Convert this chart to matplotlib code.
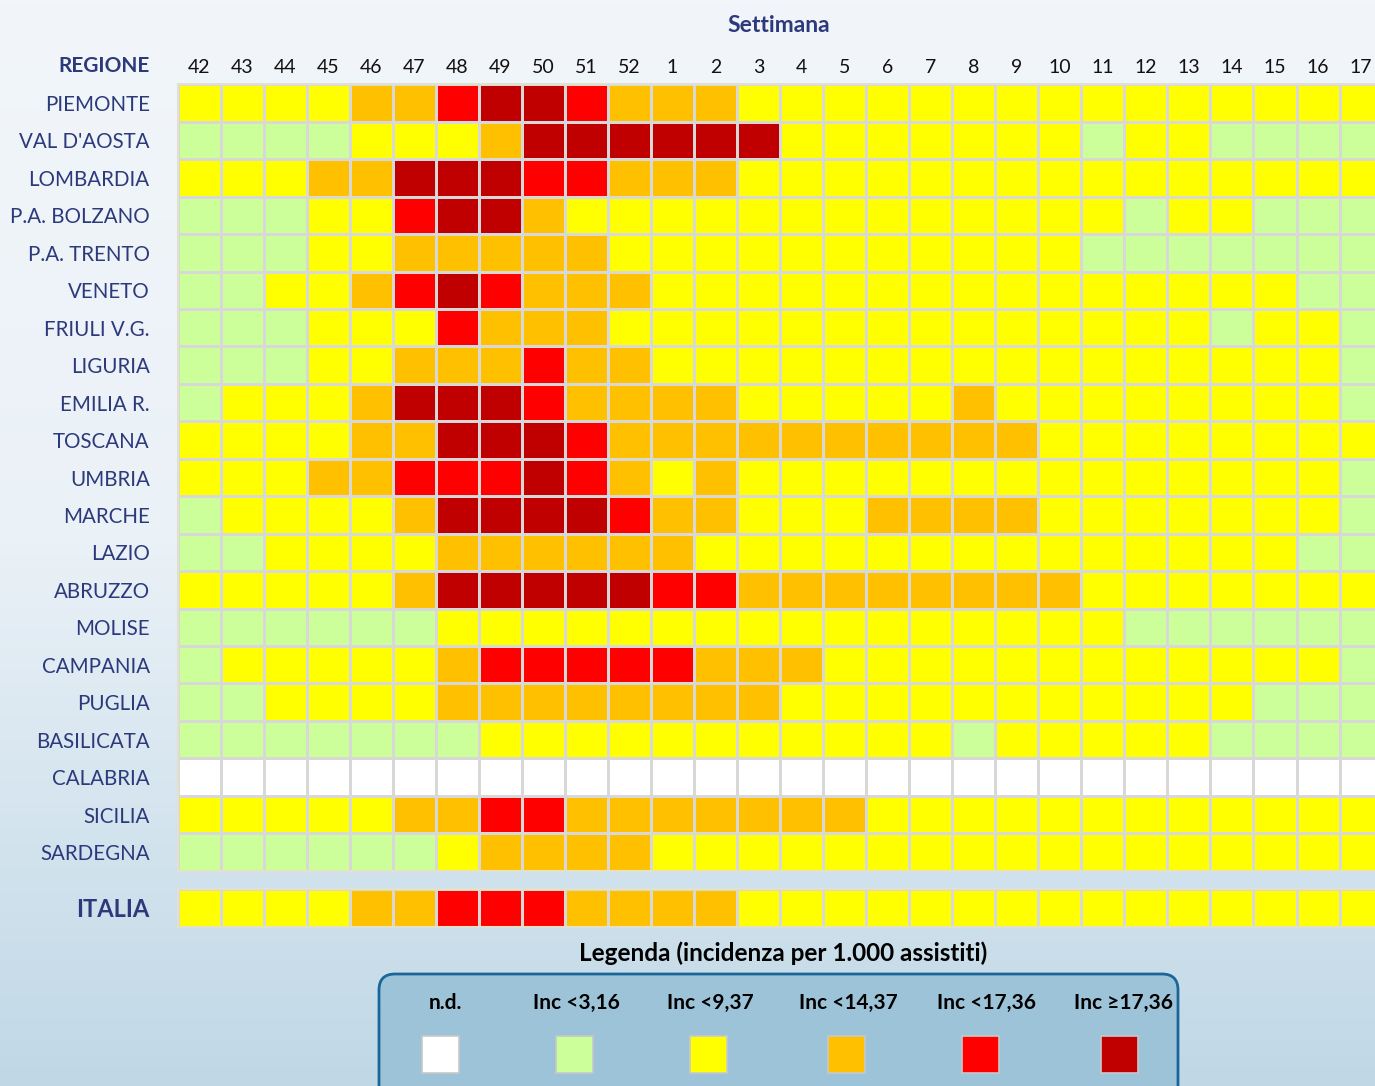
import numpy as np
import matplotlib
matplotlib.use("Agg")
import matplotlib.pyplot as plt
from matplotlib.colors import ListedColormap, BoundaryNorm, LinearSegmentedColormap
from matplotlib.patches import FancyBboxPatch, Rectangle

plt.rcParams['font.family'] = ['Lato', 'DejaVu Sans']

# ---------------- data ----------------
weeks = ['42', '43', '44', '45', '46', '47', '48', '49', '50', '51', '52',
         '1', '2', '3', '4', '5', '6', '7', '8', '9', '10', '11', '12', '13',
         '14', '15', '16', '17']

regions = ['PIEMONTE', "VAL D'AOSTA", 'LOMBARDIA', 'P.A. BOLZANO', 'P.A. TRENTO',
           'VENETO', 'FRIULI V.G.', 'LIGURIA', 'EMILIA R.', 'TOSCANA', 'UMBRIA',
           'MARCHE', 'LAZIO', 'ABRUZZO', 'MOLISE', 'CAMPANIA', 'PUGLIA',
           'BASILICATA', 'CALABRIA', 'SICILIA', 'SARDEGNA']

# class codes: 0=n.d., 1=<3,16, 2=<9,37, 3=<14,37, 4=<17,36, 5=>=17,36
piemonte   = [2,2,2,2,3,3,4,5,5,4,3, 3,3,2,2,2,2,2,2,2,2,2,2,2,2,2,2,2]
val_aosta  = [1,1,1,1,2,2,2,3,5,5,5, 5,5,5,2,2,2,2,2,2,2,1,2,2,1,1,1,1]
lombardia  = [2,2,2,3,3,5,5,5,4,4,3, 3,3,2,2,2,2,2,2,2,2,2,2,2,2,2,2,2]
bolzano    = [1,1,1,2,2,4,5,5,3,2,2, 2,2,2,2,2,2,2,2,2,2,2,1,2,2,1,1,1]
trento     = [1,1,1,2,2,3,3,3,3,3,2, 2,2,2,2,2,2,2,2,2,2,1,1,1,1,1,1,1]
veneto     = [1,1,2,2,3,4,5,4,3,3,3, 2,2,2,2,2,2,2,2,2,2,2,2,2,2,2,1,1]
friuli     = [1,1,1,2,2,2,4,3,3,3,2, 2,2,2,2,2,2,2,2,2,2,2,2,2,1,2,2,1]
liguria    = [1,1,1,2,2,3,3,3,4,3,3, 2,2,2,2,2,2,2,2,2,2,2,2,2,2,2,2,1]
emilia     = [1,2,2,2,3,5,5,5,4,3,3, 3,3,2,2,2,2,2,3,2,2,2,2,2,2,2,2,1]
toscana    = [2,2,2,2,3,3,5,5,5,4,3, 3,3,3,3,3,3,3,3,3,2,2,2,2,2,2,2,2]
umbria     = [2,2,2,3,3,4,4,4,5,4,3, 2,3,2,2,2,2,2,2,2,2,2,2,2,2,2,2,1]
marche     = [1,2,2,2,2,3,5,5,5,5,4, 3,3,2,2,2,3,3,3,3,2,2,2,2,2,2,2,1]
lazio      = [1,1,2,2,2,2,3,3,3,3,3, 3,2,2,2,2,2,2,2,2,2,2,2,2,2,2,1,1]
abruzzo    = [2,2,2,2,2,3,5,5,5,5,5, 4,4,3,3,3,3,3,3,3,3,2,2,2,2,2,2,2]
molise     = [1,1,1,1,1,1,2,2,2,2,2, 2,2,2,2,2,2,2,2,2,2,2,1,1,1,1,1,1]
campania   = [1,2,2,2,2,2,3,4,4,4,4, 4,3,3,3,2,2,2,2,2,2,2,2,2,2,2,2,1]
puglia     = [1,1,2,2,2,2,3,3,3,3,3, 3,3,3,2,2,2,2,2,2,2,2,2,2,2,1,1,1]
basilicata = [1,1,1,1,1,1,1,2,2,2,2, 2,2,2,2,2,2,2,1,2,2,2,2,2,1,1,1,1]
calabria   = [0,0,0,0,0,0,0,0,0,0,0, 0,0,0,0,0,0,0,0,0,0,0,0,0,0,0,0,0]
sicilia    = [2,2,2,2,2,3,3,4,4,3,3, 3,3,3,3,3,2,2,2,2,2,2,2,2,2,2,2,2]
sardegna   = [1,1,1,1,1,1,2,3,3,3,3, 2,2,2,2,2,2,2,2,2,2,2,2,2,2,2,2,2]
italia     = [2,2,2,2,3,3,4,4,4,3,3, 3,3,2,2,2,2,2,2,2,2,2,2,2,2,2,2,2]

legend_labels = ['n.d.', 'Inc <3,16', 'Inc <9,37', 'Inc <14,37', 'Inc <17,36', 'Inc \u226517,36']
class_colors = ['#ffffff', '#ccff99', '#ffff00', '#ffc000', '#ff0000', '#c00000']

# ---------------- figure ----------------
W, H = 1375, 1086
fig = plt.figure(figsize=(W / 100, H / 100), dpi=100)

# background gradient
ax_bg = fig.add_axes([0, 0, 1, 1], zorder=0)
grad = np.linspace(0, 1, 256).reshape(-1, 1)
bg_cmap = LinearSegmentedColormap.from_list('bg', ['#f2f6fa', '#eaf1f7', '#c0d8e6'])
ax_bg.imshow(grad, aspect='auto', cmap=bg_cmap, extent=[0, 1, 0, 1], origin='upper')
ax_bg.set_axis_off()

cmap = ListedColormap(class_colors)
norm = BoundaryNorm(np.arange(-0.5, 6.5, 1), cmap.N)

navy = '#2c3a7c'
grid_col = '#d8d8d8'

matrix = np.array([piemonte, val_aosta, lombardia, bolzano, trento, veneto, friuli,
                   liguria, emilia, toscana, umbria, marche, lazio, abruzzo, molise,
                   campania, puglia, basilicata, calabria, sicilia, sardegna])

x0 = 177.5
cw = 43.04
grid_w = cw * len(weeks)
top, bot = 84.3, 870.7

ax = fig.add_axes([x0 / W, 1 - bot / H, grid_w / W, (bot - top) / H], zorder=2)
ax.pcolormesh(np.arange(len(weeks) + 1), np.arange(len(regions) + 1), matrix,
              cmap=cmap, norm=norm, edgecolors=grid_col, linewidth=1.8)
ax.set_xlim(0, len(weeks))
ax.set_ylim(len(regions), 0)
ax.xaxis.tick_top()
ax.set_xticks(np.arange(len(weeks)) + 0.5)
ax.set_xticklabels(weeks, fontsize=14, color='#111111')
ax.set_yticks(np.arange(len(regions)) + 0.5)
ax.set_yticklabels(regions, fontsize=14.8, color=navy)
ax.tick_params(axis='x', length=0, pad=6)
ax.tick_params(axis='y', length=0, pad=20)
for s in ax.spines.values():
    s.set_color('#e2e2cc')
    s.set_linewidth(1.5)

# ITALIA row
it_top, it_bot = 888.5, 926.5
ax_it = fig.add_axes([x0 / W, 1 - it_bot / H, grid_w / W, (it_bot - it_top) / H], zorder=2)
ax_it.pcolormesh(np.arange(len(weeks) + 1), np.arange(2), np.array([italia]),
                 cmap=cmap, norm=norm, edgecolors=grid_col, linewidth=1.8)
ax_it.set_xlim(0, len(weeks))
ax_it.set_ylim(1, 0)
ax_it.set_xticks([])
ax_it.set_yticks([0.5])
ax_it.set_yticklabels(['ITALIA'], fontsize=17, fontweight='bold', color=navy)
ax_it.tick_params(axis='y', length=0, pad=20)
for s in ax_it.spines.values():
    s.set_color('#e2e2cc')
    s.set_linewidth(1.5)

# overlay in pixel coordinates
ov = fig.add_axes([0, 0, 1, 1], zorder=3)
ov.set_xlim(0, W)
ov.set_ylim(H, 0)
ov.set_axis_off()
ov.patch.set_alpha(0)

ov.text(779, 25, 'Settimana', ha='center', va='center', fontsize=16.5,
        fontweight='bold', color=navy)
ov.text(150, 66, 'REGIONE', ha='right', va='center', fontsize=15,
        fontweight='bold', color=navy)

ov.text(783, 953, 'Legenda (incidenza per 1.000 assistiti)', ha='center', va='center',
        fontsize=17.5, fontweight='bold', color='#000000')

box = FancyBboxPatch((379, 974), 799, 130, boxstyle='round,pad=0,rounding_size=16',
                     facecolor='#9dc3d8', edgecolor='#1b6699', linewidth=2)
ov.add_patch(box)

label_x = [445, 576, 710, 848, 987, 1124]
square_x = [440.5, 574.5, 708.5, 846.5, 981, 1120]
for lx, sx, lab, col in zip(label_x, square_x, legend_labels, class_colors):
    ov.text(lx, 1003, lab, ha='center', va='center', fontsize=15,
            fontweight='bold', color='#000000')
    ov.add_patch(Rectangle((sx - 18.5, 1036), 37, 37, facecolor=col,
                           edgecolor='#c8c8c8', linewidth=1.2))

fig.savefig('out.png', dpi=100)
